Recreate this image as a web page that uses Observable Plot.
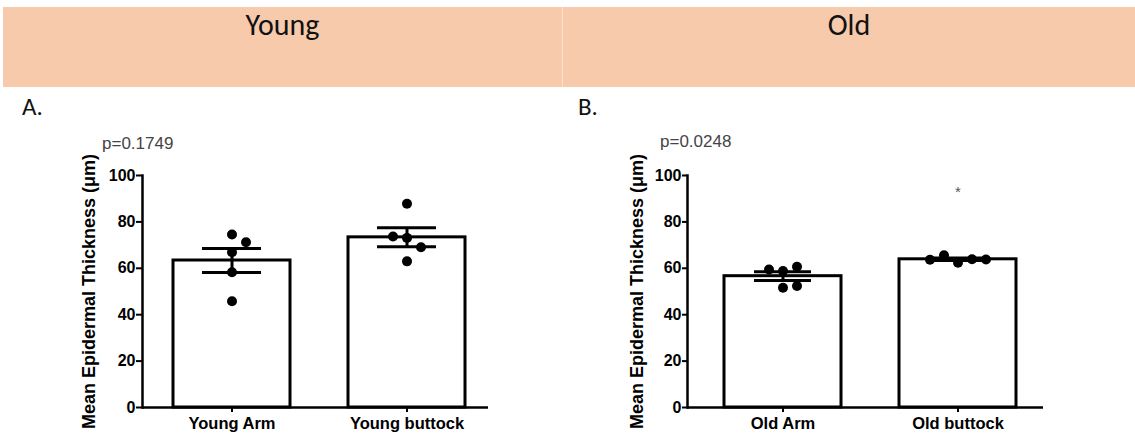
<!DOCTYPE html>
<html><head><meta charset="utf-8">
<script src="https://cdn.jsdelivr.net/npm/d3@7"></script>
<script src="https://cdn.jsdelivr.net/npm/@observablehq/plot@0.6"></script>
<style>
body{margin:0;width:1135px;height:436px;position:relative;overflow:hidden;background:#fff;font-family:"Liberation Sans",Arial,sans-serif;}
.band{position:absolute;top:7px;height:80px;background:#F7CAAC;}
.head{position:absolute;top:10px;font-family:Carlito,Lato,sans-serif;font-size:30px;line-height:30px;text-align:center;color:#111;}
.panel{position:absolute;font-family:Carlito,Lato,sans-serif;font-size:25px;line-height:25px;color:#111;top:94px;}
.pval{position:absolute;font-family:"Liberation Sans",Arial,sans-serif;font-size:17px;line-height:17px;color:#444;}
.chart{position:absolute;top:120px;}
</style></head>
<body>
<div class="band" style="left:3px;width:1132px;background:#FBE0CC"></div>
<div class="band" style="left:3px;width:559px"></div>
<div class="band" style="left:563px;width:572px"></div>
<div class="head" id="h0" style="left:3px;width:559px"></div>
<div class="head" id="h1" style="left:563px;width:572px"></div>
<div class="panel" id="l0" style="left:22px"></div>
<div class="panel" id="l1" style="left:578px"></div>
<div class="pval" id="p0" style="left:102px;top:135px"></div>
<div class="pval" id="p1" style="left:660px;top:133px"></div>
<div class="chart" id="c0" style="left:60px"></div>
<div class="chart" id="c1" style="left:600px"></div>
<script>
// ---- data ----
const headers = ["Young", "Old"];
const panelLetters = ["A.", "B."];
const pValues = ["p=0.1749", "p=0.0248"];
const yLabel = "Mean Epidermal Thickness (\u03bcm)";
const yTicks = [0, 20, 40, 60, 80, 100];

const youngCats = ["Young Arm", "Young buttock"];
const youngArm = [74.6, 71.2, 66.9, 58.3, 45.8];
const youngButtock = [87.8, 73.1, 69.1, 73.7, 63.0];

const oldCats = ["Old Arm", "Old buttock"];
const oldArm = [58.8, 60.7, 59.5, 51.6, 52.4];
const oldButtock = [62.4, 63.9, 65.6, 63.8, 63.7];

const youngNotes = [];
const oldNotes = [{cat: "Old buttock", y: 93, text: "*"}];

// ---- text ----
headers.forEach((t, i) => document.getElementById("h" + i).textContent = t);
panelLetters.forEach((t, i) => document.getElementById("l" + i).textContent = t);
pValues.forEach((t, i) => document.getElementById("p" + i).textContent = t);

function panel({cats, groups, notes, width, marginLeft, marginRight, range, capInset, labelDx, labelDy, tickSize}) {
  const height = 316, mt = 55, mb = 29;
  const pxPerUnit = (height - mt - mb) / (yTicks[yTicks.length - 1] - yTicks[0]);
  const minGap = 11.5, spacing = 14;
  const summary = cats.map((c, i) => {
    const v = groups[i], m = d3.mean(v), s = d3.deviation(v) / Math.sqrt(v.length);
    return {cat: c, mean: m, lo: m - s, hi: m + s};
  });
  const points = [];
  cats.forEach((c, i) => {
    const placed = [];
    groups[i].forEach(v => {
      for (const col of [0, 1, -1, 2, -2, 3, -3]) {
        if (placed.every(p => p.col !== col || Math.abs(p.v - v) * pxPerUnit >= minGap)) {
          placed.push({cat: c, v, col}); break;
        }
      }
    });
    points.push(...placed);
  });
  const cols = [...new Set(points.map(p => p.col))];
  return Plot.plot({
    width, height, marginTop: mt, marginBottom: mb, marginLeft, marginRight,
    x: {type: "band", domain: cats, range, paddingInner: 0.333, paddingOuter: 0, label: null},
    y: {domain: [yTicks[0], yTicks[yTicks.length - 1]], label: null},
    style: {fontFamily: "'Liberation Sans', Arial, sans-serif", fontSize: "16px", fontWeight: "bold", color: "black", background: "transparent", overflow: "visible"},
    marks: [
      Plot.barY(summary, {x: "cat", y: "mean", fill: "white", stroke: "black", strokeWidth: 3}),
      Plot.ruleX(summary, {x: "cat", y1: "lo", y2: "hi", stroke: "black", strokeWidth: 3}),
      Plot.tickY(summary, {x: "cat", y: "lo", stroke: "black", strokeWidth: 3, insetLeft: capInset, insetRight: capInset}),
      Plot.tickY(summary, {x: "cat", y: "hi", stroke: "black", strokeWidth: 3, insetLeft: capInset, insetRight: capInset}),
      ...cols.map(col => Plot.dot(points.filter(p => p.col === col), {x: "cat", y: "v", dx: col * spacing, r: 5, fill: "black", stroke: "none"})),
      Plot.ruleY([0], {stroke: "black", strokeWidth: 2.5}),
      Plot.frame({anchor: "left", stroke: "black", strokeWidth: 2.5}),
      Plot.axisY({ticks: yTicks, tickSize, tickPadding: 1, strokeWidth: 2, label: null}),
      Plot.axisX({tickSize: 5, tickPadding: 5, strokeWidth: 2, fontSize: 16.5, label: null}),
      Plot.text([yLabel], {frameAnchor: "left", textAnchor: "middle", rotate: -90, dx: labelDx, dy: labelDy, fontSize: 18, fontWeight: "bold", fill: "black"}),
      Plot.text(notes, {x: "cat", y: "y", text: "text", fill: "#555", fontSize: 15, fontWeight: "normal"})
    ]
  });
}

document.getElementById("c0").append(panel({
  cats: youngCats, groups: [youngArm, youngButtock], notes: youngNotes,
  width: 430, marginLeft: 82, marginRight: 2, range: [113, 405], capInset: 29,
  labelDx: -53, labelDy: 0, tickSize: 6
}));
document.getElementById("c1").append(panel({
  cats: oldCats, groups: [oldArm, oldButtock], notes: oldNotes,
  width: 460, marginLeft: 87, marginRight: 17, range: [124, 416], capInset: 30,
  labelDx: -50, labelDy: 0, tickSize: 5
}));
</script>
</body></html>
